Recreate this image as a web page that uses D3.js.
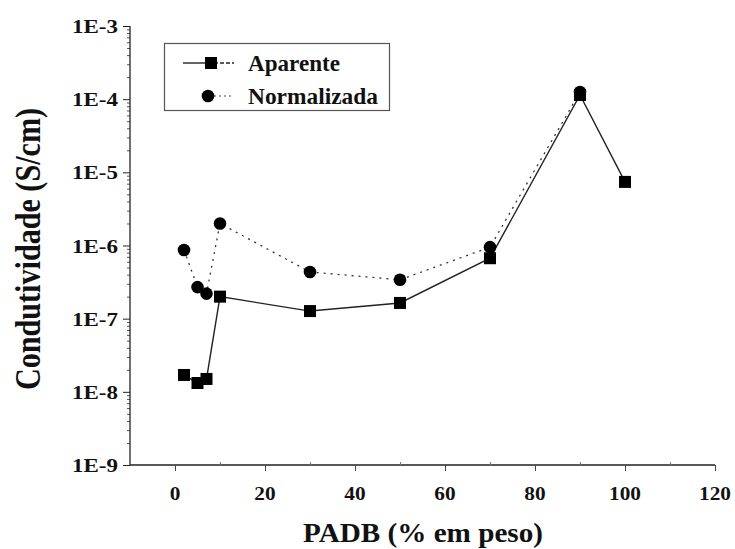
<!DOCTYPE html>
<html><head><meta charset="utf-8">
<script src="https://cdn.jsdelivr.net/npm/d3@7"></script>
<style>body{margin:0;background:#fff}svg{display:block}text{font-family:"Liberation Serif","Times New Roman",serif}</style>
</head><body>
<svg id="c" width="735" height="549"></svg>
<script>
const aparenteX = [2, 5, 7, 10, 30, 50, 70, 90, 100];
const aparenteY = [1.7e-8, 1.32e-8, 1.5e-8, 2.0e-7, 1.27e-7, 1.64e-7, 6.7e-7, 1.14e-4, 7.4e-6];
const normalizadaX = [2, 5, 7, 10, 30, 50, 70, 90];
const normalizadaY = [8.7e-7, 2.7e-7, 2.2e-7, 2.0e-6, 4.35e-7, 3.4e-7, 9.5e-7, 1.25e-4];
const xTicks = [0, 20, 40, 60, 80, 100, 120];
const yTicks = [1e-9, 1e-8, 1e-7, 1e-6, 1e-5, 1e-4, 1e-3];
const yTickLabels = ["1E-9", "1E-8", "1E-7", "1E-6", "1E-5", "1E-4", "1E-3"];
const seriesNames = ["Aparente", "Normalizada"];
const xTitle = "PADB (% em peso)";
const yTitle = "Condutividade (S/cm)";

const svg = d3.select("#c");
const x = d3.scaleLinear().domain([-10, 120]).range([130, 715]);
const y = d3.scaleLog().domain([1e-9, 1e-3]).range([465, 26]);

// axes
const gx = svg.append("g").attr("transform", `translate(0,${y(1e-9)})`)
  .call(d3.axisBottom(x).tickValues(xTicks).tickSize(6).tickFormat(""));
gx.select(".domain").attr("stroke", "#222").attr("stroke-width", 1.3).attr("d", `M${x(-10)},0H${x(120)}`);
gx.selectAll(".tick line").attr("stroke", "#444");
const gxm = svg.append("g").attr("transform", `translate(0,${y(1e-9)})`)
  .call(d3.axisTop(x).tickValues([10, 30, 50, 70, 90, 110]).tickSize(3).tickFormat(""));
gxm.select(".domain").remove();
gxm.selectAll(".tick line").attr("stroke", "#777");

const minor = [];
for (let e = -9; e < -3; e++) for (let m = 2; m <= 9; m++) minor.push(m * Math.pow(10, e));
const gym = svg.append("g").attr("transform", `translate(${x(-10)},0)`)
  .call(d3.axisLeft(y).tickValues(minor).tickSize(3).tickFormat(""));
gym.select(".domain").remove();
gym.selectAll(".tick line").attr("stroke", "#555");
const gy = svg.append("g").attr("transform", `translate(${x(-10)},0)`)
  .call(d3.axisLeft(y).tickValues(yTicks).tickSize(7).tickFormat(""));
gy.select(".domain").attr("stroke", "#222").attr("stroke-width", 1.3).attr("d", `M0,${y(1e-3)}V${y(1e-9)}`);
gy.selectAll(".tick line").attr("stroke", "#222");

// tick labels
svg.append("g").selectAll("text").data(xTicks).join("text")
  .attr("x", d => x(d)).attr("y", y(1e-9) + 35)
  .attr("text-anchor", "middle").attr("font-weight", "bold")
  .attr("font-size", 19).attr("fill", "#111").text(d => d)
  .each(function () { const w = this.getComputedTextLength(); d3.select(this).attr("textLength", w * 1.12).attr("lengthAdjust", "spacingAndGlyphs"); });
svg.append("g").selectAll("text").data(yTicks).join("text")
  .attr("x", 118).attr("y", d => y(d) + 7)
  .attr("text-anchor", "end").attr("font-weight", "bold")
  .attr("font-size", 19).attr("fill", "#111").text((d, i) => yTickLabels[i])
  .attr("textLength", 46).attr("lengthAdjust", "spacingAndGlyphs");

// titles
svg.append("text").attr("x", 423).attr("y", 542).attr("text-anchor", "middle")
  .attr("font-weight", "bold").attr("font-size", 28).attr("fill", "#111")
  .attr("textLength", 240).attr("lengthAdjust", "spacingAndGlyphs").text(xTitle);
svg.append("text").attr("transform", "translate(40,249) rotate(-90)").attr("text-anchor", "middle")
  .attr("font-weight", "bold").attr("font-size", 36).attr("fill", "#111")
  .attr("textLength", 282).attr("lengthAdjust", "spacingAndGlyphs").text(yTitle);

// lines
svg.append("path").datum(normalizadaY).attr("fill", "none").attr("stroke", "#333")
  .attr("stroke-width", 1.3).attr("stroke-dasharray", "2,5")
  .attr("d", d3.line().x((d, i) => x(normalizadaX[i])).y(d => y(d)));
svg.append("path").datum(aparenteY).attr("fill", "none").attr("stroke", "#222")
  .attr("stroke-width", 1.4).attr("d", d3.line().x((d, i) => x(aparenteX[i])).y(d => y(d)));

// markers
svg.append("g").selectAll("rect").data(aparenteY).join("rect")
  .attr("x", (d, i) => x(aparenteX[i]) - 6).attr("y", d => y(d) - 6)
  .attr("width", 12).attr("height", 12).attr("fill", "#000");
svg.append("g").selectAll("circle").data(normalizadaY).join("circle")
  .attr("cx", (d, i) => x(normalizadaX[i])).attr("cy", d => y(d)).attr("r", 6.3).attr("fill", "#000");

// legend
const lg = svg.append("g");
lg.append("rect").attr("x", 164.5).attr("y", 43.5).attr("width", 225).attr("height", 67)
  .attr("fill", "#fff").attr("stroke", "#555").attr("stroke-width", 1.2);
lg.append("line").attr("x1", 183).attr("x2", 208).attr("y1", 63).attr("y2", 63).attr("stroke", "#222").attr("stroke-width", 1.4);
lg.append("line").attr("x1", 214).attr("x2", 234).attr("y1", 63).attr("y2", 63).attr("stroke", "#222")
  .attr("stroke-width", 1.3).attr("stroke-dasharray", "4,2");
lg.append("rect").attr("x", 205).attr("y", 57).attr("width", 12).attr("height", 12).attr("fill", "#000");
lg.append("line").attr("x1", 214).attr("x2", 234).attr("y1", 96).attr("y2", 96).attr("stroke", "#444")
  .attr("stroke-width", 1.2).attr("stroke-dasharray", "2,3");
lg.append("circle").attr("cx", 208).attr("cy", 96).attr("r", 6.3).attr("fill", "#000");
lg.selectAll("text.l").data(seriesNames).join("text").attr("class", "l")
  .attr("x", 248).attr("y", (d, i) => 71 + i * 33)
  .attr("font-weight", "bold").attr("font-size", 23).attr("fill", "#111")
  .attr("textLength", (d, i) => i === 0 ? 92 : 130).attr("lengthAdjust", "spacingAndGlyphs").text(d => d);
</script>
</body></html>
